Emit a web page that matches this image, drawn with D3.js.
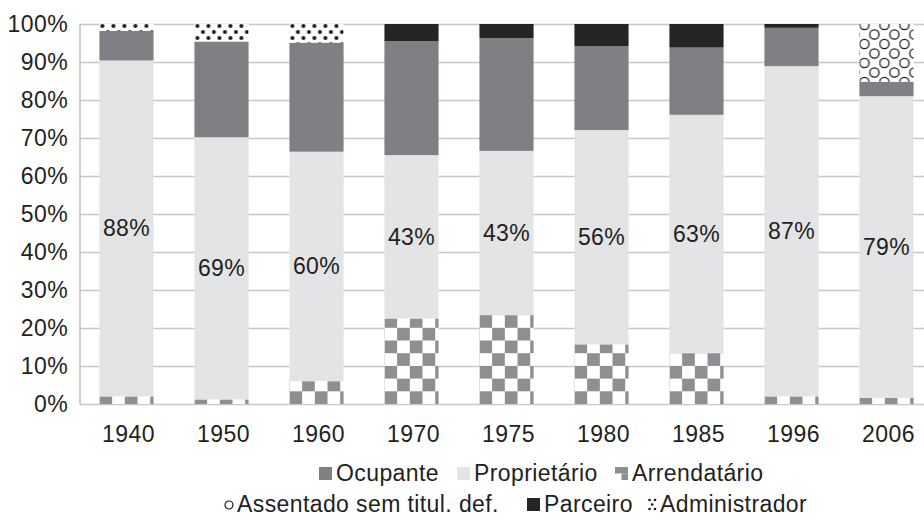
<!DOCTYPE html>
<html>
<head>
<meta charset="utf-8">
<script src="https://cdn.jsdelivr.net/npm/d3@7"></script>
<style>
  body { margin: 0; background: #fff; }
  svg { display: block; font-family: "Liberation Sans", Arial, sans-serif; }
  text { fill: #231f20; letter-spacing: 0.4px; }
</style>
</head>
<body>
<svg width="924" height="519"></svg>
<script>
var categories = ["1940", "1950", "1960", "1970", "1975", "1980", "1985", "1996", "2006"];
var arrendatario = [2.0, 1.2, 6.0, 22.5, 23.4, 15.7, 13.5, 2.0, 1.6];
var proprietario = [88.4, 69.0, 60.4, 43.0, 43.2, 56.4, 62.6, 86.9, 79.4];
var ocupante = [7.8, 25.2, 28.7, 30.0, 29.7, 22.1, 17.7, 10.1, 3.8];
var parceiro = [0, 0, 0, 4.5, 3.7, 5.8, 6.2, 1.0, 0];
var administrador = [1.8, 4.6, 4.9, 0, 0, 0, 0, 0, 0];
var assentado = [0, 0, 0, 0, 0, 0, 0, 0, 15.2];
var yTicks = [0, 10, 20, 30, 40, 50, 60, 70, 80, 90, 100];

var keys = ["arrendatario", "proprietario", "ocupante", "parceiro", "administrador", "assentado"];
var rows = categories.map(function (c, i) {
    return {
        cat: c,
        arrendatario: arrendatario[i],
        proprietario: proprietario[i],
        ocupante: ocupante[i],
        parceiro: parceiro[i],
        administrador: administrador[i],
        assentado: assentado[i]
    };
});

var svg = d3.select("svg");
var defs = svg.append("defs");

var x = d3.scaleBand()
    .domain(categories)
    .range([79, 934])
    .paddingInner(0.43)
    .paddingOuter(0.215);

var y = d3.scaleLinear()
    .domain([0, 100])
    .range([404, 24]);

// patterns, one per bar so they line up with each bar's left edge
var cell = 12.7;
categories.forEach(function (c, i) {
    var bx = x(c);

    var chk = defs.append("pattern")
        .attr("id", "chk" + i)
        .attr("patternUnits", "userSpaceOnUse")
        .attr("width", cell * 2).attr("height", cell * 2)
        .attr("patternTransform", "translate(" + bx + "," + y(0) + ")");
    chk.append("rect").attr("width", cell * 2).attr("height", cell * 2).attr("fill", "#fff");
    chk.append("rect").attr("x", 0).attr("y", cell).attr("width", cell).attr("height", cell).attr("fill", "#8e8f93");
    chk.append("rect").attr("x", cell).attr("y", 0).attr("width", cell).attr("height", cell).attr("fill", "#8e8f93");

    var dots = defs.append("pattern")
        .attr("id", "dots" + i)
        .attr("patternUnits", "userSpaceOnUse")
        .attr("width", 11).attr("height", 12)
        .attr("patternTransform", "translate(" + bx + "," + y(100) + ")");
    dots.append("rect").attr("width", 11).attr("height", 12).attr("fill", "#fff");
    dots.append("circle").attr("cx", 3).attr("cy", 2).attr("r", 2).attr("fill", "#1a1a1a");
    dots.append("circle").attr("cx", 8.5).attr("cy", 8).attr("r", 2).attr("fill", "#1a1a1a");

    var circ = defs.append("pattern")
        .attr("id", "circ" + i)
        .attr("patternUnits", "userSpaceOnUse")
        .attr("width", 20).attr("height", 19)
        .attr("patternTransform", "translate(" + bx + "," + y(100) + ")");
    circ.append("rect").attr("width", 20).attr("height", 19).attr("fill", "#fff");
    [[5, 1], [15, 10.5], [5, 20], [-5, 10.5], [25, 10.5], [15, -8.5]].forEach(function (p) {
        circ.append("circle").attr("cx", p[0]).attr("cy", p[1]).attr("r", 4.6)
            .attr("fill", "none").attr("stroke", "#1a1a1a").attr("stroke-width", 1.3);
    });
});

function fillFor(key, i) {
    if (key === "arrendatario") return "url(#chk" + i + ")";
    if (key === "proprietario") return "#e3e4e6";
    if (key === "ocupante") return "#7f8084";
    if (key === "parceiro") return "#262526";
    if (key === "administrador") return "url(#dots" + i + ")";
    return "url(#circ" + i + ")";
}

// gridlines
svg.append("g")
    .attr("class", "grid")
    .attr("transform", "translate(80,0)")
    .call(d3.axisLeft(y).tickValues(yTicks).tickSize(-860).tickFormat(""))
    .call(function (g) {
        g.select(".domain").remove();
        g.selectAll("line").attr("stroke", "#c8c8c8").attr("stroke-width", 1.5);
    });

// left axis line
svg.append("line")
    .attr("x1", 80).attr("x2", 80)
    .attr("y1", y(100)).attr("y2", y(0))
    .attr("stroke", "#c0c0c0").attr("stroke-width", 1.5);

// bars
var stacked = d3.stack().keys(keys)(rows);

svg.append("g").selectAll("g")
    .data(stacked)
    .enter().append("g")
    .selectAll("rect")
    .data(function (s) {
        return s.map(function (d, i) { return {key: s.key, i: i, d: d}; });
    })
    .enter().append("rect")
    .filter(function (o) { return o.d[1] - o.d[0] > 0; })
    .attr("x", function (o) { return x(categories[o.i]); })
    .attr("y", function (o) { return y(o.d[1]); })
    .attr("width", x.bandwidth())
    .attr("height", function (o) { return y(o.d[0]) - y(o.d[1]); })
    .attr("fill", function (o) { return fillFor(o.key, o.i); });

// value labels inside Proprietário
svg.append("g").selectAll("text")
    .data(rows)
    .enter().append("text")
    .attr("x", function (d) { return x(d.cat) + x.bandwidth() / 2; })
    .attr("y", function (d) { return y(d.arrendatario + d.proprietario / 2); })
    .attr("dy", "0.35em")
    .attr("text-anchor", "middle")
    .attr("font-size", 23)
    .text(function (d) { return Math.round(d.proprietario) + "%"; });

// y tick labels
svg.append("g")
    .attr("transform", "translate(80,0)")
    .call(d3.axisLeft(y).tickValues(yTicks).tickSize(0).tickPadding(12)
        .tickFormat(function (d) { return d + "%"; }))
    .call(function (g) {
        g.select(".domain").remove();
        g.selectAll("text").attr("font-size", 23).attr("font-family", null).attr("fill", "#231f20");
    });

// x tick labels
svg.append("g")
    .attr("transform", "translate(2," + y(0) + ")")
    .call(d3.axisBottom(x).tickSize(0).tickPadding(22))
    .call(function (g) {
        g.select(".domain").remove();
        g.selectAll("text").attr("font-size", 23).attr("font-family", null).attr("fill", "#231f20");
    });

// legend
var legendItems = [
    {label: "Ocupante", key: "ocupante", x: 319, row: 0},
    {label: "Proprietário", key: "proprietario", x: 457, row: 0},
    {label: "Arrendatário", key: "arrendatario", x: 615, row: 0},
    {label: "Assentado sem titul. def.", key: "assentado", x: 224, row: 1},
    {label: "Parceiro", key: "parceiro", x: 527, row: 1},
    {label: "Administrador", key: "administrador", x: 648, row: 1}
];
var rowY = [473, 504];

var lg = svg.append("g").selectAll("g")
    .data(legendItems)
    .enter().append("g")
    .attr("transform", function (d) { return "translate(" + d.x + "," + rowY[d.row] + ")"; });

lg.each(function (d) {
    var g = d3.select(this);
    if (d.key === "ocupante" || d.key === "proprietario" || d.key === "parceiro") {
        g.append("rect").attr("x", 0).attr("y", -6).attr("width", 13).attr("height", 13)
            .attr("fill", fillFor(d.key, 0));
    } else if (d.key === "arrendatario") {
        g.append("rect").attr("x", 0).attr("y", -6).attr("width", 13).attr("height", 6.5).attr("fill", "#8e8f93");
        g.append("rect").attr("x", 6.5).attr("y", 0.5).attr("width", 6.5).attr("height", 6.5).attr("fill", "#8e8f93");
    } else if (d.key === "assentado") {
        g.append("circle").attr("cx", 5).attr("cy", 1).attr("r", 4)
            .attr("fill", "none").attr("stroke", "#1a1a1a").attr("stroke-width", 1.2);
    } else {
        [[1.5, -4], [7, -4], [4.2, 0.5], [1.5, 5], [7, 5]].forEach(function (p) {
            g.append("circle").attr("cx", p[0]).attr("cy", p[1]).attr("r", 1.3).attr("fill", "#1a1a1a");
        });
    }
    g.append("text")
        .attr("x", d.key === "assentado" ? 13 : (d.key === "administrador" ? 12 : 17))
        .attr("y", 0)
        .attr("dy", "0.35em")
        .attr("font-size", 23)
        .text(d.label);
});
</script>
</body>
</html>
